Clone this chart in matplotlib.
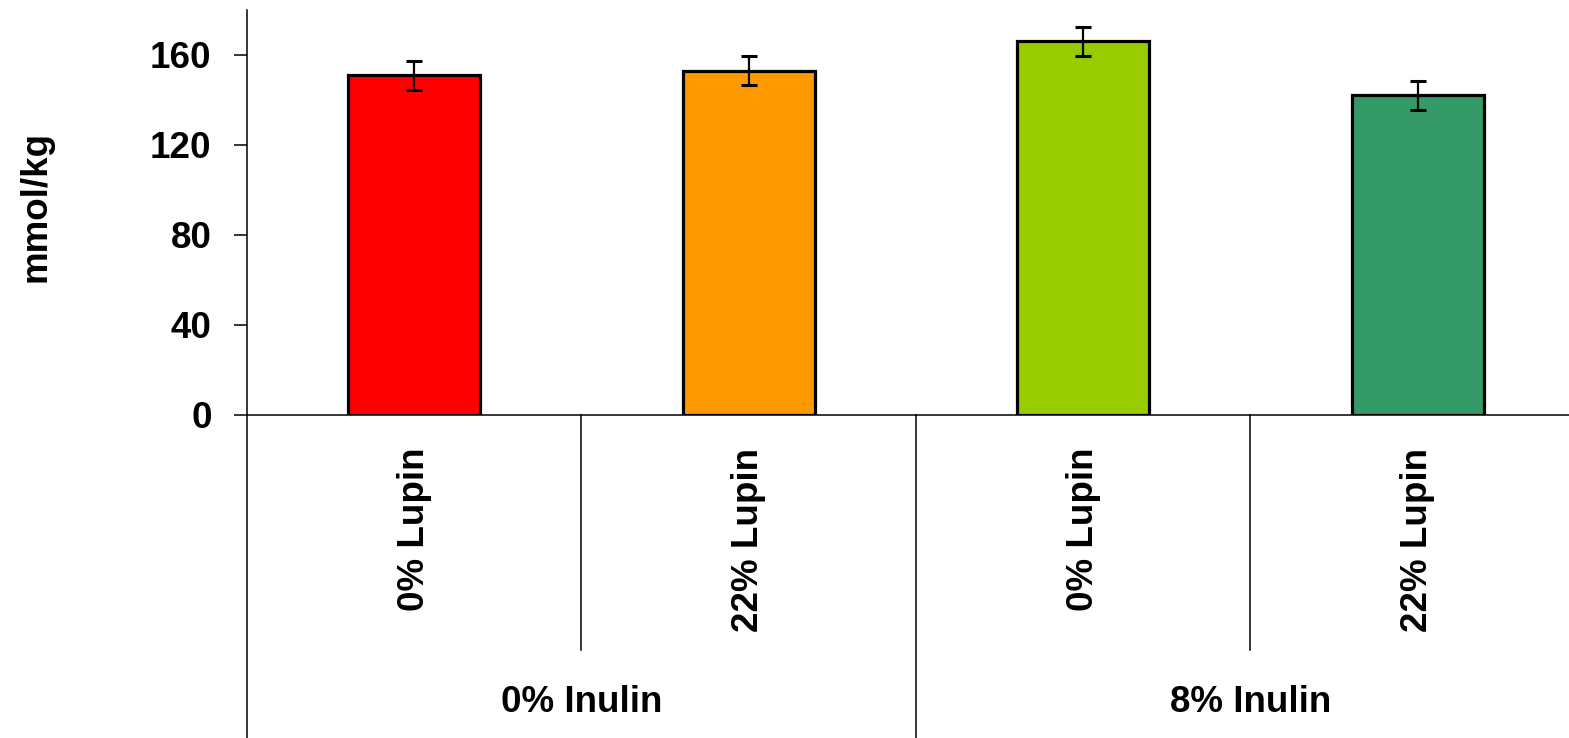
import matplotlib
matplotlib.use('Agg')
import matplotlib.pyplot as plt

lupin = ['0% Lupin', '22% Lupin', '0% Lupin', '22% Lupin']
inulin = ['0% Inulin', '8% Inulin']
values = [151, 153, 166, 142]
errors = [6.5, 6.5, 6.5, 6.5]
colors = ['#FF0000', '#FF9900', '#99CC00', '#339966']
yticks = [0, 40, 80, 120, 160]

plt.rcParams['font.family'] = 'Liberation Sans'
plt.rcParams['font.weight'] = 'bold'


def main():
    fig = plt.figure(figsize=(15.69, 7.38), dpi=100)
    ax = fig.add_axes([0.1574, 0.4377, 0.8528, 0.5488])

    x = list(range(len(values)))
    ax.bar(x, values, width=0.395, color=colors, edgecolor='black',
           linewidth=2.3, zorder=2)
    ax.errorbar(x, values, yerr=errors, fmt='none', ecolor='black',
                elinewidth=1.6, capsize=5.5, capthick=2.2, zorder=3)

    ax.set_xlim(-0.5, 3.5)
    ax.set_ylim(0, 180)
    ax.set_yticks(yticks)
    ax.tick_params(axis='y', direction='out', length=9.5, width=1.1,
                   pad=16, labelsize=26.5)
    ax.set_xticks([])
    for side in ['top', 'right']:
        ax.spines[side].set_visible(False)
    ax.spines['left'].set_linewidth(1.1)
    ax.spines['bottom'].set_linewidth(1.1)
    for lab in ax.get_yticklabels():
        lab.set_fontweight('bold')

    trans = ax.get_xaxis_transform()
    # category separators below the axis
    ax.plot([-0.5, -0.5], [0, -0.8], color='black', lw=1.1, transform=trans,
            clip_on=False)
    ax.plot([1.5, 1.5], [0, -0.8], color='black', lw=1.1, transform=trans,
            clip_on=False)
    for sx in [0.5, 2.5]:
        ax.plot([sx, sx], [0, -0.58], color='black', lw=1.1, transform=trans,
                clip_on=False)

    for i, lab in enumerate(lupin):
        ax.text(i, -0.0815, lab, rotation=90, ha='center', va='top',
                fontsize=26.5, fontweight='bold', transform=trans)
    for j, lab in enumerate(inulin):
        ax.text(2 * j + 0.5, -0.711, lab, ha='center', va='center',
                fontsize=26.5, fontweight='bold', transform=trans)

    fig.text(36 / 1569, 1 - 206 / 738, 'mmol/kg', rotation=90, ha='center',
             va='center', fontsize=26.5, fontweight='bold')

    fig.savefig('out.png', dpi=100)


main()
